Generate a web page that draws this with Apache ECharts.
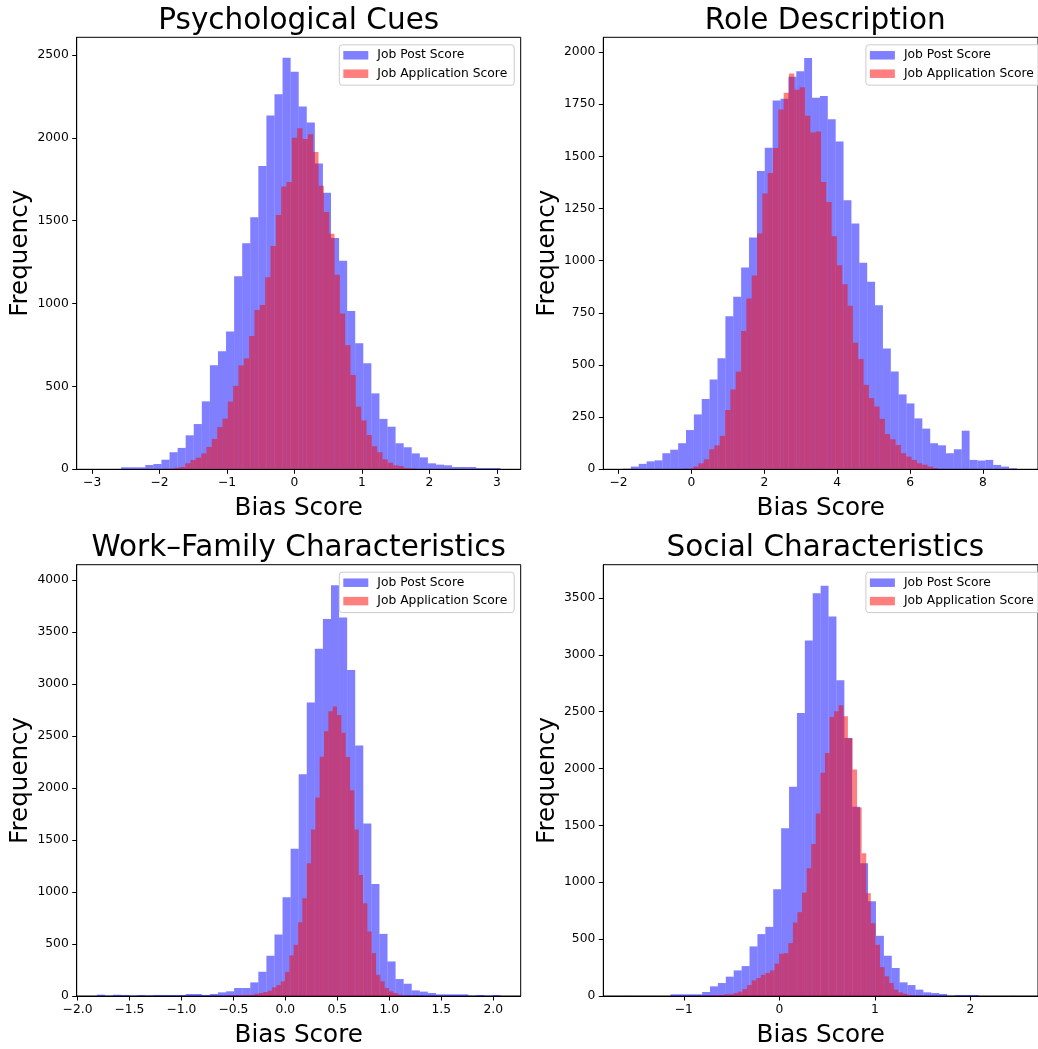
<!DOCTYPE html>
<html>
<head>
<meta charset="utf-8">
<title>Bias Score Histograms</title>
<script src="https://cdn.jsdelivr.net/npm/echarts@6/dist/echarts.min.js"></script>
<style>
    html, body { margin: 0; padding: 0; background: #fff; }
    #chart { width: 1038px; height: 1049px; }
</style>
</head>
<body>
<div id="chart"></div>
<script>
// legend names, shared by the four panels
var seriesNames = ['Job Post Score', 'Job Application Score'];

// ---- Psychological Cues (50 bins each) ----
var psychPostEdges = [-2.93, 3.055];
var psychPost = [1, 1, 2, 12, 12, 12, 26, 32, 58, 103, 129, 205, 273, 410, 627, 712, 832, 1164, 1363, 1521,
    1829, 2135, 2263, 2482, 2398, 2189, 2092, 1845, 1668, 1395, 1258, 955, 760, 639, 458, 304, 257, 157, 133, 96,
    72, 36, 28, 24, 14, 14, 14, 8, 8, 8];
var psychAppEdges = [-2.175, 1.78];
var psychApp = [1, 2, 2, 3, 4, 10, 14, 36, 56, 70, 96, 135, 183, 255, 306, 408, 503, 627, 669, 804,
    961, 991, 1158, 1347, 1534, 1706, 1733, 2000, 2058, 1992, 2021, 1914, 1710, 1552, 1421, 1173, 940, 749, 569, 378,
    295, 207, 139, 103, 60, 40, 24, 20, 8, 6];

// ---- Role Description ----
var rolePostEdges = [-1.88, 8.93];
var rolePost = [3, 13, 26, 38, 43, 77, 94, 125, 188, 263, 337, 431, 532, 734, 827, 967, 1111, 1430, 1542, 1768,
    1777, 1882, 1908, 1972, 1781, 1790, 1678, 1572, 1290, 1178, 990, 899, 787, 579, 469, 359, 316, 244, 195, 125,
    115, 77, 96, 185, 45, 42, 45, 21, 13, 5];
var roleAppEdges = [-0.54, 6.77];
var roleApp = [1, 1, 3, 3, 13, 29, 48, 96, 115, 160, 284, 383, 468, 663, 819, 929, 1130, 1322, 1421, 1540,
    1725, 1805, 1897, 1820, 1831, 1695, 1615, 1620, 1377, 1282, 1117, 978, 887, 784, 607, 529, 405, 341, 301, 242,
    169, 144, 117, 77, 61, 45, 29, 22, 13, 6];

// ---- Work-Family Characteristics ----
var workPostEdges = [-1.814, 2.07];
var workPost = [13, 3, 12, 10, 3, 10, 5, 10, 10, 10, 10, 19, 19, 10, 19, 35, 45, 77, 77, 131,
    233, 387, 591, 949, 1415, 2131, 2821, 3339, 3623, 3949, 3639, 3134, 2409, 1658, 1077, 597, 332, 163, 118, 54,
    42, 29, 16, 16, 16, 16, 3, 10, 3, 10];
var workAppEdges = [-0.753, 1.33];
var workApp = [1, 1, 2, 2, 3, 5, 7, 8, 10, 10, 13, 22, 29, 38, 51, 83, 105, 141, 230, 390,
    492, 709, 940, 1275, 1601, 1907, 2300, 2546, 2738, 2783, 2700, 2530, 2297, 1978, 1601, 1163, 891, 620, 412, 204,
    141, 77, 45, 29, 13, 5, 4, 3, 2, 2];

// ---- Social Characteristics ----
var socialPostEdges = [-1.636, 2.499];
var socialPost = [1, 0, 0, 0, 0, 0, 15, 15, 15, 15, 35, 85, 114, 170, 225, 263, 436, 544, 608, 939,
    1474, 1839, 2488, 3126, 3541, 3608, 3336, 2775, 2269, 1664, 1167, 833, 529, 354, 246, 120, 96, 56, 32, 26,
    18, 3, 9, 9, 9, 0, 0, 0, 0, 1];
var socialAppEdges = [-0.818, 1.58];
var socialApp = [2, 3, 5, 9, 9, 15, 15, 26, 38, 61, 96, 137, 158, 187, 202, 225, 284, 371, 377, 465,
    646, 737, 909, 1123, 1336, 1605, 1962, 2137, 2453, 2503, 2556, 2459, 2266, 1991, 1658, 1254, 904, 640, 450, 254,
    173, 114, 56, 32, 20, 9, 6, 4, 3, 2];

// tick labels
var psychXTicks = [-3, -2, -1, 0, 1, 2, 3];
var psychYTicks = [0, 500, 1000, 1500, 2000, 2500];
var roleXTicks = [-2, 0, 2, 4, 6, 8];
var roleYTicks = [0, 250, 500, 750, 1000, 1250, 1500, 1750, 2000];
var workXTicks = [-2, -1.5, -1, -0.5, 0, 0.5, 1, 1.5, 2];
var workYTicks = [0, 500, 1000, 1500, 2000, 2500, 3000, 3500, 4000];
var socialXTicks = [-1, 0, 1, 2];
var socialYTicks = [0, 500, 1000, 1500, 2000, 2500, 3000, 3500];

var FONT = 'DejaVu Sans';

var panels = [
    {title: 'Psychological Cues', post: psychPost, postEdges: psychPostEdges, app: psychApp, appEdges: psychAppEdges,
        xMin: -3.229, xMax: 3.354, yMax: 2606, xTicks: psychXTicks, yTicks: psychYTicks, dec: 0,
        left: 76.7, top: 37.3},
    {title: 'Role Description', post: rolePost, postEdges: rolePostEdges, app: roleApp, appEdges: roleAppEdges,
        xMin: -2.42, xMax: 9.51, yMax: 2071, xTicks: roleXTicks, yTicks: roleYTicks, dec: 0,
        left: 603.3, top: 37.3},
    {title: 'Work\u2013Family Characteristics', post: workPost, postEdges: workPostEdges, app: workApp, appEdges: workAppEdges,
        xMin: -2.008, xMax: 2.264, yMax: 4146, xTicks: workXTicks, yTicks: workYTicks, dec: 1,
        left: 76.7, top: 564.7},
    {title: 'Social Characteristics', post: socialPost, postEdges: socialPostEdges, app: socialApp, appEdges: socialAppEdges,
        xMin: -1.843, xMax: 2.706, yMax: 3792, xTicks: socialXTicks, yTicks: socialYTicks, dec: 0,
        left: 603.3, top: 564.7}
];

var PLOT_W = 444, PLOT_H = 432;

// turn counts + range into [x0, x1, count] rows
function toBins(counts, edges) {
    var w = (edges[1] - edges[0]) / counts.length;
    var rows = [];
    for (var i = 0; i < counts.length; i++) {
        rows.push([edges[0] + i * w, edges[0] + (i + 1) * w, counts[i]]);
    }
    return rows;
}

function renderBar(params, api) {
    var topLeft = api.coord([api.value(0), api.value(2)]);
    var bottomRight = api.coord([api.value(1), 0]);
    return {
        type: 'rect',
        shape: {
            x: topLeft[0],
            y: topLeft[1],
            width: bottomRight[0] - topLeft[0],
            height: bottomRight[1] - topLeft[1]
        },
        style: api.style()
    };
}

function minusFmt(dec) {
    return function (v) {
        var s = Math.abs(v).toFixed(dec);
        return (v < 0 ? '\u2212' : '') + s;
    };
}

var option = {
    backgroundColor: '#fff',
    animation: false,
    title: [],
    legend: [],
    grid: [],
    xAxis: [],
    yAxis: [],
    series: []
};

panels.forEach(function (p, i) {
    option.grid.push({
        left: p.left, top: p.top, width: PLOT_W, height: PLOT_H,
        show: true, borderColor: '#000', borderWidth: 1, backgroundColor: 'transparent'
    });
    option.title.push({
        text: p.title,
        left: p.left + PLOT_W / 2,
        textAlign: 'center',
        top: p.top - 31,
        padding: 0,
        textStyle: {fontFamily: FONT, fontSize: 29.5, fontWeight: 'normal', color: '#000'}
    });
    option.legend.push({
        data: seriesNames,
        orient: 'vertical',
        left: p.left + 262.6,
        top: p.top + 7.5,
        padding: [4.5, 7, 5.5, 4],
        itemGap: 6.4,
        itemWidth: 25,
        itemHeight: 8.5,
        icon: 'rect',
        selectedMode: false,
        backgroundColor: 'rgba(255,255,255,0.8)',
        borderColor: '#cccccc',
        borderWidth: 1,
        borderRadius: 3,
        textStyle: {fontFamily: FONT, fontSize: 12.3, color: '#000', padding: [0, 0, 0, 4]}
    });
    option.xAxis.push({
        type: 'value',
        gridIndex: i,
        min: p.xMin,
        max: p.xMax,
        z: 5,
        name: 'Bias Score',
        nameLocation: 'middle',
        nameGap: 27,
        nameTextStyle: {fontFamily: FONT, fontSize: 24.6, color: '#000'},
        splitLine: {show: false},
        axisLine: {show: true, onZero: false, lineStyle: {color: '#000', width: 1}},
        axisTick: {show: true, length: 4.5, lineStyle: {color: '#000'}, customValues: p.xTicks},
        axisLabel: {fontFamily: FONT, fontSize: 12.3, color: '#000', margin: 8,
            customValues: p.xTicks, formatter: minusFmt(p.dec)}
    });
    option.yAxis.push({
        type: 'value',
        gridIndex: i,
        min: 0,
        max: p.yMax,
        z: 5,
        name: 'Frequency',
        nameLocation: 'middle',
        nameGap: 36,
        nameTextStyle: {fontFamily: FONT, fontSize: 24.6, color: '#000'},
        splitLine: {show: false},
        axisLine: {show: true, onZero: false, lineStyle: {color: '#000', width: 1}},
        axisTick: {show: true, length: 4.5, lineStyle: {color: '#000'}, customValues: p.yTicks},
        axisLabel: {fontFamily: FONT, fontSize: 12.3, color: '#000', margin: 8,
            customValues: p.yTicks, formatter: function (v) { return String(v); }}
    });
    option.series.push({
        type: 'custom',
        name: seriesNames[0],
        xAxisIndex: i,
        yAxisIndex: i,
        renderItem: renderBar,
        encode: {x: [0, 1], y: 2},
        itemStyle: {color: 'rgba(0,0,255,0.5)'},
        emphasis: {disabled: true},
        silent: true,
        data: toBins(p.post, p.postEdges)
    });
    option.series.push({
        type: 'custom',
        name: seriesNames[1],
        xAxisIndex: i,
        yAxisIndex: i,
        renderItem: renderBar,
        encode: {x: [0, 1], y: 2},
        itemStyle: {color: 'rgba(255,0,0,0.5)'},
        emphasis: {disabled: true},
        silent: true,
        data: toBins(p.app, p.appEdges)
    });
});

var myChart = echarts.init(document.getElementById('chart'), null, {renderer: 'canvas'});
myChart.setOption(option);
</script>
</body>
</html>
